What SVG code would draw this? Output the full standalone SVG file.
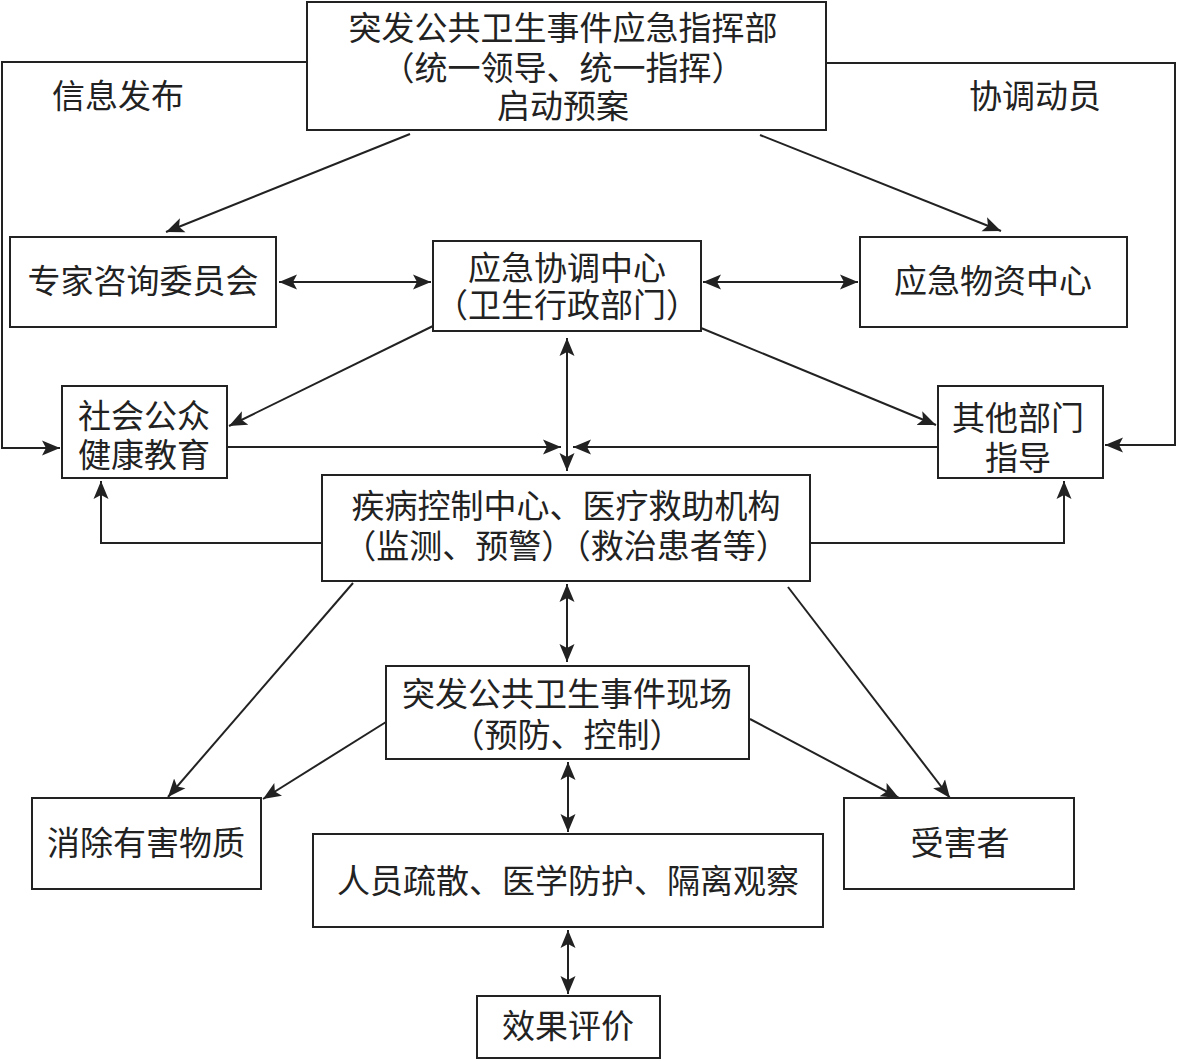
<svg xmlns="http://www.w3.org/2000/svg" width="1177" height="1061" viewBox="0 0 1177 1061">
<style>
.box{fill:#fff;stroke:#222;stroke-width:2}
.t{font-family:"Noto Sans CJK SC","Noto Sans",sans-serif;font-size:33px;fill:#222;text-anchor:middle;dominant-baseline:central}
.c{fill:none;stroke:#222;stroke-width:2}
.a{marker-end:url(#ah)}
.d{marker-start:url(#ah);marker-end:url(#ah)}
</style>
<defs>
<marker id="ah" markerUnits="userSpaceOnUse" markerWidth="20" markerHeight="16" refX="18" refY="8" orient="auto-start-reverse" viewBox="0 0 20 16">
<path d="M0,0.5 L18,8 L0,15.5 L4,8 z" fill="#222"/>
</marker>
</defs>
<rect width="1177" height="1061" fill="#fff"/>
<g id="connectors">
<polyline class="c a" points="307,62 2,62 2,448 60,448"/>
<polyline class="c a" points="826,63 1175,63 1175,445 1105,445"/>
<line class="c a" x1="410" y1="134" x2="166" y2="232"/>
<line class="c a" x1="760" y1="135" x2="1001" y2="231"/>
<line class="c d" x1="279" y1="282" x2="431" y2="282"/>
<line class="c d" x1="703" y1="282" x2="858" y2="282"/>
<line class="c a" x1="433" y1="326" x2="229" y2="426"/>
<line class="c a" x1="701" y1="328" x2="936" y2="425"/>
<line class="c d" x1="567" y1="338" x2="567" y2="471"/>
<line class="c a" x1="227" y1="447" x2="561" y2="447"/>
<line class="c a" x1="938" y1="447" x2="573" y2="447"/>
<polyline class="c a" points="322,543 101,543 101,481"/>
<polyline class="c a" points="810,543 1064,543 1064,481"/>
<line class="c d" x1="567" y1="584" x2="567" y2="662"/>
<line class="c d" x1="568" y1="762" x2="568" y2="832"/>
<line class="c d" x1="568" y1="930" x2="568" y2="994"/>
<line class="c a" x1="353" y1="583" x2="168" y2="797"/>
<line class="c a" x1="386" y1="722" x2="263" y2="799"/>
<line class="c a" x1="788" y1="587" x2="950" y2="798"/>
<line class="c a" x1="750" y1="719" x2="899" y2="798"/>
</g>
<g id="label-info"><text class="t" x="118" y="94">信息发布</text></g>
<g id="label-coord"><text class="t" x="1035" y="94">协调动员</text></g>
<g id="command">
<rect class="box" x="307" y="2" width="519" height="128"/>
<text class="t" x="563" y="26">突发公共卫生事件应急指挥部</text>
<text class="t" x="563" y="66">（统一领导、统一指挥）</text>
<text class="t" x="563" y="104">启动预案</text>
</g>
<g id="expert">
<rect class="box" x="10" y="237" width="266" height="90"/>
<text class="t" x="143" y="279">专家咨询委员会</text>
</g>
<g id="coordination">
<rect class="box" x="433" y="241" width="268" height="90"/>
<text class="t" x="567" y="266">应急协调中心</text>
<text class="t" x="567" y="303">（卫生行政部门）</text>
</g>
<g id="material">
<rect class="box" x="860" y="237" width="267" height="90"/>
<text class="t" x="993" y="279">应急物资中心</text>
</g>
<g id="public">
<rect class="box" x="62" y="386" width="165" height="92"/>
<text class="t" x="144" y="414">社会公众</text>
<text class="t" x="144" y="453">健康教育</text>
</g>
<g id="other">
<rect class="box" x="938" y="386" width="165" height="92"/>
<text class="t" x="1018" y="416">其他部门</text>
<text class="t" x="1018" y="456">指导</text>
</g>
<g id="cdc">
<rect class="box" x="322" y="475" width="488" height="106"/>
<text class="t" x="566" y="504">疾病控制中心、医疗救助机构</text>
<text class="t" x="566" y="544">（监测、预警）（救治患者等）</text>
</g>
<g id="scene">
<rect class="box" x="386" y="666" width="363" height="93"/>
<text class="t" x="567" y="692">突发公共卫生事件现场</text>
<text class="t" x="567" y="733">（预防、控制）</text>
</g>
<g id="hazard">
<rect class="box" x="32" y="798" width="229" height="91"/>
<text class="t" x="146" y="841">消除有害物质</text>
</g>
<g id="victim">
<rect class="box" x="844" y="798" width="230" height="91"/>
<text class="t" x="960" y="841">受害者</text>
</g>
<g id="persons">
<rect class="box" x="313" y="834" width="510" height="93"/>
<text class="t" x="568" y="879">人员疏散、医学防护、隔离观察</text>
</g>
<g id="eval">
<rect class="box" x="477" y="996" width="183" height="62"/>
<text class="t" x="568" y="1024">效果评价</text>
</g>
</svg>
